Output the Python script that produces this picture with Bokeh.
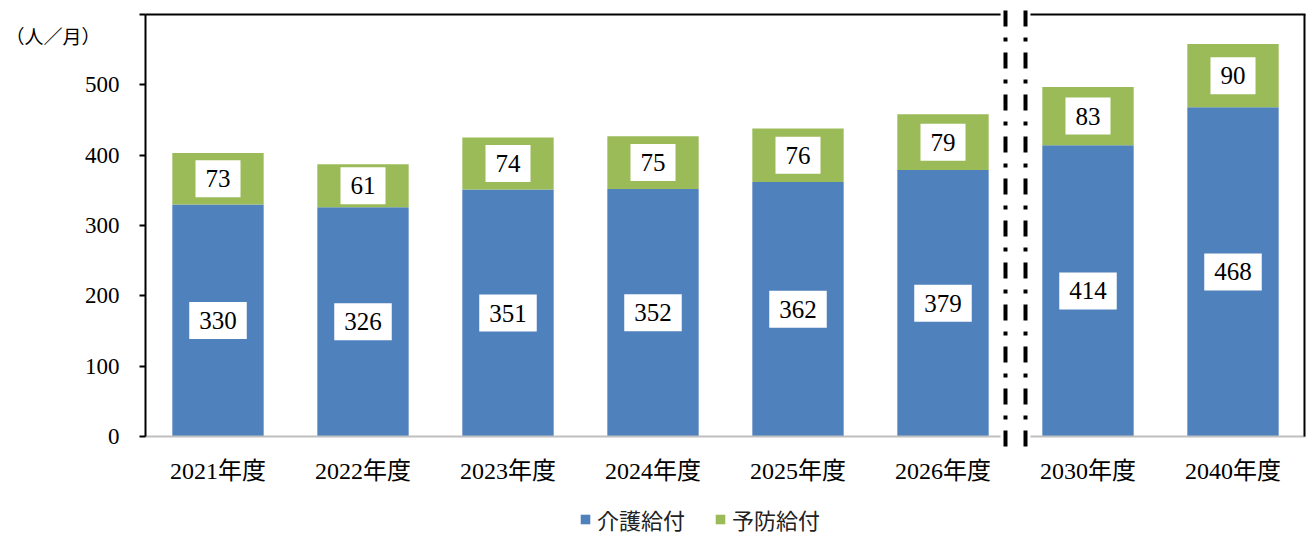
from bokeh.plotting import figure
from bokeh.models import ColumnDataSource, FixedTicker, Legend, LegendItem, Label, Range1d
from bokeh.core.properties import value
from bokeh.embed import file_html
from bokeh.resources import INLINE

# ---- data ----
years = ["2021年度", "2022年度", "2023年度", "2024年度", "2025年度", "2026年度", "2030年度", "2040年度"]
kaigo = [330, 326, 351, 352, 362, 379, 414, 468]   # 介護給付
yobo = [73, 61, 74, 75, 76, 79, 83, 90]            # 予防給付
series_names = ["介護給付", "予防給付"]
y_ticks = [0, 100, 200, 300, 400, 500, 600]
y_max = 600
unit_label = "（人／月）"
break_after = "2026年度"

BLUE = "#4F81BD"
GREEN = "#9BBB59"
SERIF = "'Liberation Serif', 'Noto Sans CJK JP'"

n = len(years)
xpos = [i + 0.5 for i in range(n)]          # category centres on the numeric scale
src = ColumnDataSource(dict(x=xpos, kaigo=kaigo, yobo=yobo))

# frame covers the whole canvas; axes are pinned inside with fixed_location
p = figure(width=1306, height=535, x_range=Range1d(-1, n + 0.0069), y_range=Range1d(-140.8, 619.9),
           output_backend="svg", toolbar_location=None,
           min_border_left=0, min_border_right=0, min_border_top=0, min_border_bottom=0)
p.outline_line_color = None
p.xgrid.visible = False
p.ygrid.visible = False

rs = p.vbar_stack(["kaigo", "yobo"], x="x", width=0.63, color=[BLUE, GREEN],
                  line_color=None, source=src)

# frame lines
p.segment(x0=[0], y0=[0], x1=[n], y1=[0], line_color="#BFBFBF", line_width=2)
p.segment(x0=[0], y0=[y_max], x1=[n], y1=[y_max], line_color="black", line_width=2)
p.segment(x0=[n - 0.007], y0=[0], x1=[n - 0.007], y1=[y_max], line_color="black", line_width=2)

# value labels
lab_x = xpos + xpos
lab_y = [k / 2 for k in kaigo] + [k + y / 2 for k, y in zip(kaigo, yobo)]
lab_t = [str(v) for v in kaigo] + [str(v) for v in yobo]
lsrc = ColumnDataSource(dict(x=lab_x, y=lab_y, t=lab_t))
p.text(x="x", y="y", text="t", source=lsrc, text_align="center", text_baseline="middle",
       text_font=value("Liberation Serif"), text_font_size="25px", text_color="black",
       background_fill_color="white", padding=(10, 10))

# axis break
bx = years.index(break_after) + 1
p.quad(left=[bx - 0.103], right=[bx + 0.103], bottom=[-27], top=[615.6],
       fill_color="white", line_color=None)
for off in (-0.069, 0.069):
    p.segment(x0=[bx + off], y0=[y_max + 5.7], x1=[bx + off], y1=[-27],
              line_color="black", line_width=4, line_dash="16 11 4 11")

# axes
ya = p.yaxis[0]
ya.fixed_location = 0
ya.bounds = (0, y_max)
ya.ticker = FixedTicker(ticks=y_ticks)
ya.major_label_overrides = {y_max: ""}
ya.axis_line_color = "black"
ya.axis_line_width = 2
ya.major_tick_line_color = "black"
ya.major_tick_line_width = 2
ya.major_tick_in = 0
ya.major_tick_out = 6
ya.minor_tick_line_color = None
ya.major_label_standoff = 20
ya.major_label_text_font = "Liberation Serif"
ya.major_label_text_font_size = "23px"
ya.major_label_text_color = "black"

xa = p.xaxis[0]
xa.fixed_location = 0
xa.ticker = FixedTicker(ticks=xpos)
xa.major_label_overrides = {x: y for x, y in zip(xpos, years)}
xa.axis_line_color = None
xa.major_tick_line_color = None
xa.minor_tick_line_color = None
xa.major_label_standoff = 16
xa.major_label_text_font = SERIF
xa.major_label_text_font_size = "24px"
xa.major_label_text_color = "black"

p.add_layout(Label(x=-1 + 5 / 145, y=570, text=unit_label, text_align="left", text_baseline="middle",
                   text_font="Noto Sans CJK JP", text_font_size="19px", text_color="black"))

legend = Legend(items=[LegendItem(label=series_names[0], renderers=[rs[0]]),
                       LegendItem(label=series_names[1], renderers=[rs[1]])],
                orientation="horizontal", location=(579, 0),
                label_text_font="Noto Sans CJK JP", label_text_font_size="22px",
                label_text_color="#222222",
                glyph_width=12, glyph_height=12, spacing=29, label_standoff=6,
                padding=0, margin=0, border_line_color=None, background_fill_alpha=0)
p.add_layout(legend, "center")

open("out.html", "w").write(file_html(p, INLINE))
